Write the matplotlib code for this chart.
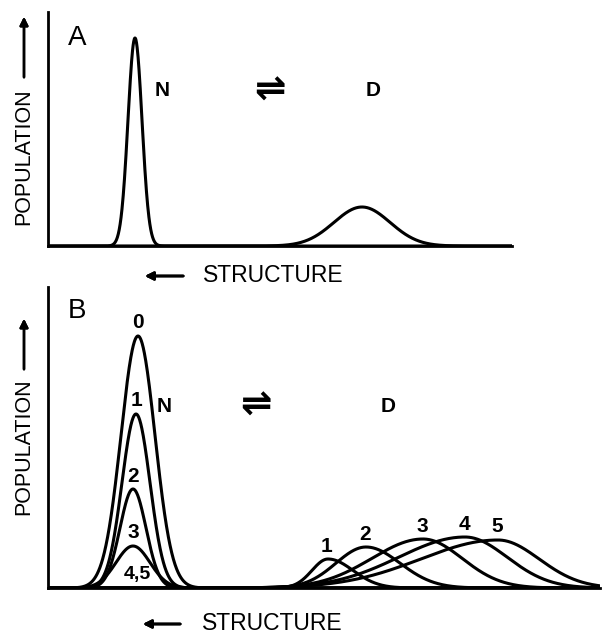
import numpy as np
import matplotlib.pyplot as plt

plt.rcParams['font.family'] = ['Liberation Sans', 'DejaVu Sans']

# panel A: native (N) and denatured (D) populations along the structure axis
a_labels = ["N", "D"]
a_centers = [87, 314]
a_heights = [208, 39]
a_widths = [7, 28]

# panel B: native peaks for 0..3 (4 and 5 are gone), denatured peaks 1..5 (skewed)
bn_labels = ["0", "1", "2", "3"]
bn_centers = [90, 88, 85, 85]
bn_heights = [252, 174, 99, 42]
bn_widths = [17, 14, 13, 17]

bd_labels = ["1", "2", "3", "4", "5"]
bd_centers = [280, 318, 375, 417, 450]
bd_heights = [29, 41, 49, 51, 48]
bd_left = [16, 30, 51, 66, 77]
bd_right = [25, 34, 39, 42, 41]


def peak(x, c, h, wl, wr):
    w = np.where(x < c, wl, wr)
    return h * np.exp(-0.5 * ((x - c) / w) ** 2)


LW = 2.2
fig = plt.figure(figsize=(6.04, 6.35), dpi=100)

axA = fig.add_axes([48 / 604, 1 - 246 / 635, 464 / 604, 234 / 635])
axB = fig.add_axes([48 / 604, 1 - 588 / 635, 552 / 604, 301 / 635])

for ax, xmax, ymax in [(axA, 464, 234), (axB, 552, 301)]:
    ax.set_xlim(0, xmax)
    ax.set_ylim(0, ymax)
    ax.set_xticks([])
    ax.set_yticks([])
    for s in ["top", "right"]:
        ax.spines[s].set_visible(False)
    for s in ["left", "bottom"]:
        ax.spines[s].set_linewidth(2.0)

# panel A curves
xa = np.linspace(0, 464, 1500)
for c, h, w in zip(a_centers, a_heights, a_widths):
    axA.plot(xa, peak(xa, c, h, w, w), color="black", lw=LW)

axA.text(29, 208, "A", fontsize=20, ha="center", va="center")
axA.text(114, 155, "N", fontsize=15, fontweight="bold", ha="center", va="center")
axA.text(222, 155, "\u21cc", fontsize=27, fontweight="bold", ha="center", va="center",
         family="DejaVu Sans")
axA.text(325, 155, "D", fontsize=15, fontweight="bold", ha="center", va="center")

# panel B curves
xb = np.linspace(0, 552, 2000)
for lab, c, h, w in zip(bn_labels, bn_centers, bn_heights, bn_widths):
    axB.plot(xb, peak(xb, c, h, w, w), color="black", lw=LW)
    axB.text(c, h + 13, lab, fontsize=15, fontweight="bold", ha="center", va="center")
axB.text(89, 13, "4,5", fontsize=14, fontweight="bold", ha="center", va="center")

for lab, c, h, wl, wr in zip(bd_labels, bd_centers, bd_heights, bd_left, bd_right):
    axB.plot(xb, peak(xb, c, h, wl, wr), color="black", lw=LW)
    axB.text(c - 1, h + 13, lab, fontsize=15, fontweight="bold", ha="center", va="center")

axB.text(29, 277, "B", fontsize=20, ha="center", va="center")
axB.text(116, 182, "N", fontsize=15, fontweight="bold", ha="center", va="center")
axB.text(208, 182, "\u21cc", fontsize=27, fontweight="bold", ha="center", va="center",
         family="DejaVu Sans")
axB.text(340, 181, "D", fontsize=15, fontweight="bold", ha="center", va="center")


def fx(px):
    return px / 604


def fy(py):
    return 1 - py / 635


# axis captions with arrows
for yc, y0, y1 in [(157, 80, 14), (447, 372, 316)]:
    fig.text(fx(24), fy(yc), "POPULATION", rotation=90, fontsize=15.5,
             ha="center", va="center")
    fig.add_artist(plt.annotate("", xy=(fx(24), fy(y1)), xytext=(fx(24), fy(y0)),
                                xycoords="figure fraction",
                                arrowprops=dict(arrowstyle="-|>", color="black", lw=1.8,
                                                mutation_scale=12)))

for yc, x0, x1, xt in [(276, 186, 142, 203), (624, 183, 140, 202)]:
    fig.text(fx(xt), fy(yc), "STRUCTURE", fontsize=16.5, ha="left", va="center")
    fig.add_artist(plt.annotate("", xy=(fx(x1), fy(yc)), xytext=(fx(x0), fy(yc)),
                                xycoords="figure fraction",
                                arrowprops=dict(arrowstyle="-|>", color="black", lw=2.0,
                                                mutation_scale=12)))

fig.savefig("out.png", dpi=100)
